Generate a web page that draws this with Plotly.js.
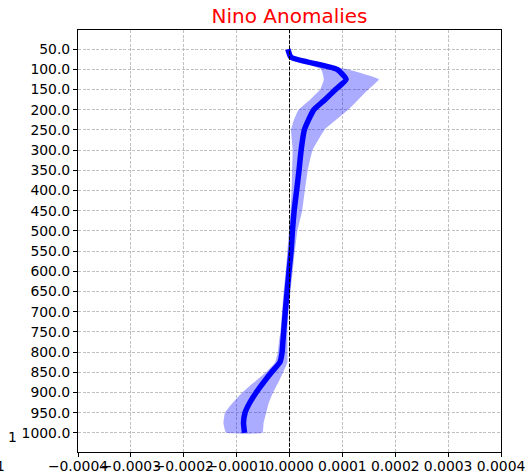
<!DOCTYPE html>
<html>
<head>
<meta charset="utf-8">
<script src="https://cdn.plot.ly/plotly-3.0.1.min.js"></script>
<style>html,body{margin:0;padding:0;background:#fff;}#chart{width:526px;height:472px;}</style>
</head>
<body>
<div id="chart"></div>
<script>
// Pressure levels (hPa)
const levels = [50,70,100,125,150,175,200,225,250,300,350,400,450,500,550,600,650,700,750,775,800,825,850,875,900,925,950,975,1000];
// Mean anomaly profile
const meanVals = [-0.000003,0.000003,0.000090,0.000107,0.000087,0.000067,0.000046,0.000036,0.000028,0.000022,0.000018,0.0000135,0.0000088,0.0000055,0.000003,-0.000001,-0.0000045,-0.000008,-0.000011,-0.0000125,-0.000014,-0.000018,-0.000034,-0.000049,-0.000063,-0.000075,-0.000084,-0.000087,-0.000085];
// Spread band (lower / upper bounds)
const lowerVals = [-0.000004,-0.000002,0.000060,0.000065,0.000058,0.000039,0.000017,0.0000085,0.000003,0.000006,0.000005,0.000004,0.000002,-0.000001,-0.000004,-0.000007,-0.000011,-0.000014,-0.000017,-0.000020,-0.000022,-0.000027,-0.0000445,-0.000067,-0.000089,-0.000107,-0.000122,-0.000125,-0.000120];
const upperVals = [-0.000002,0.000008,0.000110,0.000169,0.000149,0.000130,0.000111,0.000088,0.000066,0.0000435,0.0000345,0.000029,0.000024,0.000015,0.000010,0.000006,0.000002,-0.000002,-0.000004,-0.000004,-0.000004,-0.000004,-0.000012,-0.000021,-0.000031,-0.000039,-0.000044,-0.000049,-0.000051];
const xTicks = [-0.0004,-0.0003,-0.0002,-0.0001,0,0.0001,0.0002,0.0003,0.0004];
const yTicks = [50,100,150,200,250,300,350,400,450,500,550,600,650,700,750,800,850,900,950,1000];

const bandX = upperVals.concat(lowerVals.slice().reverse());
const bandY = levels.concat(levels.slice().reverse());

const traces = [
  {x: bandX, y: bandY, type: 'scatter', mode: 'lines', fill: 'toself',
   fillcolor: 'rgba(0,0,255,0.33)', line: {width: 0, shape: 'spline', smoothing: 0.3}, hoverinfo: 'skip', showlegend: false},
  {x: meanVals, y: levels, type: 'scatter', mode: 'lines',
   line: {color: '#0000ff', width: 5.5, shape: 'spline', smoothing: 0.5}, showlegend: false}
];

const axisCommon = {
  showline: true, mirror: true, linecolor: '#000', linewidth: 1,
  ticks: 'outside', ticklen: 4, tickcolor: '#000', tickwidth: 1,
  showgrid: true, gridcolor: '#b0b0b0', gridwidth: 0.8, griddash: '3px,1.5px',
  zeroline: false,
  tickfont: {family: 'DejaVu Sans', size: 13.9, color: '#000'}
};

const layout = {
  width: 526, height: 472,
  margin: {l: 78, r: 25, t: 30, b: 20},
  paper_bgcolor: '#fff', plot_bgcolor: '#fff',
  title: {text: 'Nino Anomalies', font: {family: 'DejaVu Sans', size: 20, color: 'red'},
          x: 0.5, xref: 'paper', xanchor: 'center', y: 0.966, yref: 'container', yanchor: 'middle'},
  xaxis: Object.assign({}, axisCommon, {range: [-0.0004, 0.0004], tickvals: xTicks, tickformat: '.4f', tickangle: 0, ticklabelstandoff: -3}),
  yaxis: Object.assign({}, axisCommon, {range: [1047.5, 2.5], tickvals: yTicks, tickformat: '.1f'}),
  shapes: [{type: 'line', xref: 'x', yref: 'paper', x0: 0, x1: 0, y0: 0, y1: 1,
            line: {color: '#000', width: 1, dash: '3.7px,1.6px'}, layer: 'above'}],
  annotations: [
    {text: '1', xref: 'paper', yref: 'paper', x: -0.1545, y: 0.036, showarrow: false,
     xanchor: 'center', yanchor: 'middle', font: {family: 'DejaVu Sans', size: 13.9, color: '#000'}},
    {text: '1', xref: 'paper', yref: 'paper', x: -0.183, y: -0.033, showarrow: false,
     xanchor: 'center', yanchor: 'middle', font: {family: 'DejaVu Sans', size: 13.9, color: '#000'}}
  ],
  showlegend: false
};

Plotly.newPlot('chart', traces, layout, {displayModeBar: false, staticPlot: true});
</script>
</body>
</html>
